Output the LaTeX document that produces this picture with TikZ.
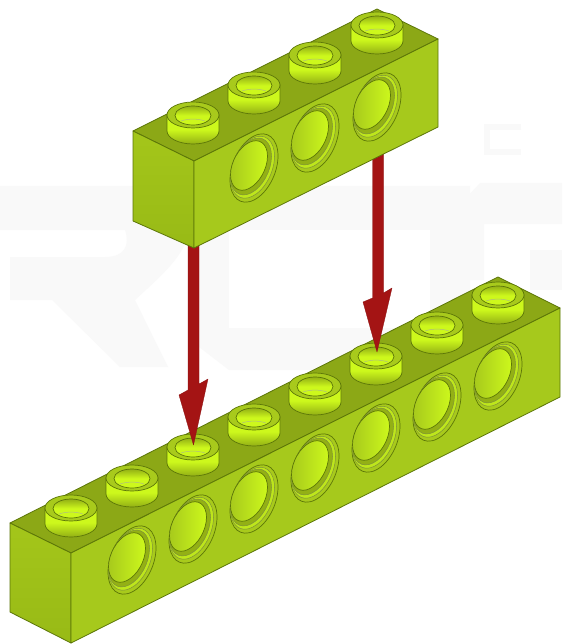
\documentclass[tikz,border=0pt]{standalone}
\definecolor{faceR}{HTML}{A6C91C}
\definecolor{faceL}{HTML}{A4C61A}
\definecolor{faceLb}{HTML}{98BA16}
\definecolor{faceT}{HTML}{8CA816}
\definecolor{edgeC}{HTML}{5C7608}
\definecolor{bright}{HTML}{CDF81C}
\definecolor{ringC}{HTML}{A8CA1C}
\definecolor{midC}{HTML}{93B015}
\definecolor{arrowC}{HTML}{A41414}
\definecolor{markC}{HTML}{F9F9F9}
\tikzset{
  edgeline/.style={draw=edgeC,line width=0.8pt,line join=round},
  ghost/.style={fill=markC,draw=none},
  drop/.style={fill=arrowC,draw=arrowC!85!black,line width=0.3pt,line join=round},
  thinedge/.style={draw=edgeC,line width=0.7pt},
}
\newcommand{\brickstud}[2]{%
  \begin{scope}[shift={(#1,#2)}]
    \path[thinedge,bottom color=midC,top color=bright,middle color=bright]
      (-26,0) -- (-26,16) .. controls (-26,23) and (-14.4,29) .. (0,29)
      .. controls (14.4,29) and (26,23) .. (26,16) -- (26,0) -- cycle;
    \path[thinedge,fill=ringC] (0,0) ellipse[x radius=26,y radius=13];
    \path[thinedge,top color=midC,bottom color=bright,middle color=bright] (0,0.5) ellipse[x radius=18,y radius=9.5];
    \draw[edgeC!50,line width=0.5pt] (-12,6) .. controls (-5,3.5) and (5,3.5) .. (12,6);
  \end{scope}}
\newcommand{\brickhole}[2]{%
  \begin{scope}[cm={1,0.5,0,1,(#1,#2)}]
    \path[thinedge,fill=ringC] (0,0) ellipse[x radius=24,y radius=32];
    \path[draw=edgeC!80,line width=0.5pt,fill=bright!60!ringC] (-1.5,-1.5) ellipse[x radius=22,y radius=29];
    \path[draw=edgeC!80,line width=0.5pt,fill=midC] (-3,-3) ellipse[x radius=20.5,y radius=26.5];
    \path[thinedge,left color=ringC,right color=bright] (-5,-5) ellipse[x radius=18.5,y radius=23];
  \end{scope}}
\begin{document}
\begin{tikzpicture}[x=1pt,y=-1pt]
\useasboundingbox (0,0) rectangle (562,644);
\fill[white] (0,0) rectangle (562,644);
% faint watermark
\path[ghost] (0,186) -- (160,186) .. controls (185,186) and (190,205) .. (190,220)
  .. controls (190,250) and (170,268) .. (135,300) -- (168,367) -- (120,367) -- (52,300) -- (10,300) -- (10,257)
  -- (105,257) .. controls (125,257) and (130,245) .. (125,230) -- (0,230) -- cycle;
\path[ghost] (215,186) -- (440,186) -- (470,186) -- (470,370) -- (229,370) -- (190,340) -- (190,215) -- cycle;
\path[fill=white] (229,230) rectangle (430,328);
\path[ghost] (480,183) -- (562,183) -- (562,224) -- (484,224) -- (484,280) -- (440,280) -- (440,226) -- cycle;
\path[ghost] (530,250) rectangle (562,290);
\draw[markC,line width=6pt] (521,127) -- (487,127) -- (487,152) -- (521,152);
% lower brick
\path[edgeline,fill=faceT] (10,523) -- (498,277) -- (560,308) -- (71,553) -- cycle;
\path[edgeline,top color=faceL,bottom color=faceLb] (10,523) -- (71,553) -- (71,643) -- (10,612) -- cycle;
\path[edgeline,fill=faceR] (71,553) -- (560,308) -- (560,397) -- (71,643) -- cycle;
\brickstud{71}{508}\brickstud{132}{478}\brickstud{193}{447}\brickstud{254}{417}
\brickstud{315}{386}\brickstud{376}{356}\brickstud{437}{325}\brickstud{498}{295}
\brickhole{132}{560}\brickhole{193}{529}\brickhole{254}{499}\brickhole{315}{468}
\brickhole{376}{438}\brickhole{437}{407}\brickhole{498}{376}
% arrows
\path[drop] (188,240) -- (199,240) -- (199,384) -- (208,379) -- (193.5,445) -- (179,395) -- (188,390) -- cycle;
\path[drop] (372.5,150) -- (383.5,150) -- (383.5,293) -- (392,288) -- (377,352) -- (363,302) -- (372.5,298) -- cycle;
% upper brick
\path[edgeline,fill=faceT] (133,131) -- (377,9) -- (438,39) -- (194,161) -- cycle;
\path[edgeline,top color=faceL,bottom color=faceLb] (133,131) -- (194,161) -- (194,248) -- (133,221) -- cycle;
\path[edgeline,fill=faceR] (194,161) -- (438,39) -- (438,127) -- (194,248) -- cycle;
\brickstud{193}{115}\brickstud{254}{85}\brickstud{315}{55}\brickstud{377}{25}
\brickhole{254}{168}\brickhole{315}{138}\brickhole{377}{107}
\end{tikzpicture}
\end{document}
